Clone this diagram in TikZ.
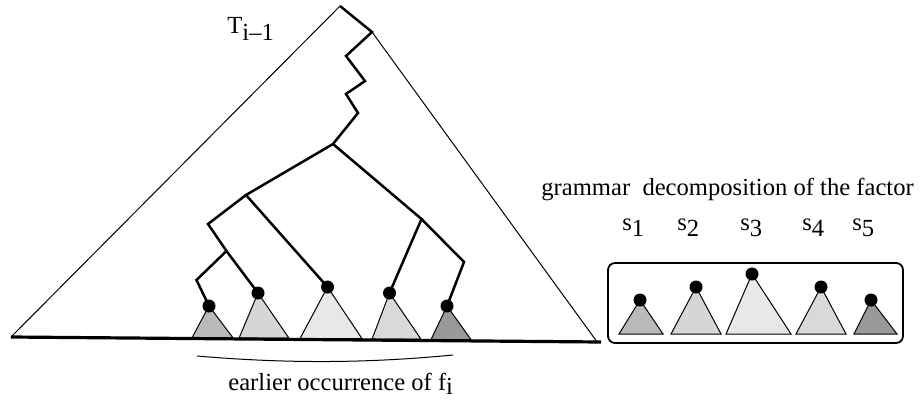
\documentclass[tikz,border=0pt]{standalone}
\usepackage{fontspec}
\setmainfont{Liberation Serif}
\definecolor{shadeA}{gray}{0.73}
\definecolor{shadeB}{gray}{0.84}
\definecolor{shadeC}{gray}{0.91}
\definecolor{shadeD}{gray}{0.85}
\definecolor{shadeE}{gray}{0.60}
\newcommand{\lowsub}[2][0.32em]{\raisebox{-#1}{#2}}

\begin{document}
\begin{tikzpicture}[x=0.5pt,y=-0.5pt,
    outline/.style={line width=0.5pt},
    treeline/.style={line width=1.25pt, line join=miter},
    subtree/.style={draw=black, line width=0.5pt, line join=miter},
    dot/.style={circle, fill=black, inner sep=0pt, minimum size=6.5pt},
    lbl/.style={inner sep=0pt, anchor=base west, font=\fontsize{12.3}{14}\selectfont}]
    \useasboundingbox (0,0) rectangle (920,402);
    \coordinate (top) at (340,6);
    \coordinate (rs) at (372,32);
    \coordinate (lc) at (11,337);
    \coordinate (rc) at (597,341.8);
    \coordinate (br) at (601,342);
    \draw[outline] (lc) -- (top);
    \draw[outline] (rs) -- (rc);
    \coordinate (p1) at (209,306);
    \coordinate (p2) at (258,293);
    \coordinate (p3) at (327.5,287);
    \coordinate (p4) at (389.5,293);
    \coordinate (p5) at (447,306);
    \filldraw[subtree, fill=shadeA] (p1) -- (192,337.8) -- (233,337.8) -- cycle;
    \filldraw[subtree, fill=shadeB] (p2) -- (239,338.2) -- (289,338.2) -- cycle;
    \filldraw[subtree, fill=shadeC] (p3) -- (300,338.6) -- (362,338.6) -- cycle;
    \filldraw[subtree, fill=shadeD] (p4) -- (372,339.2) -- (421,339.2) -- cycle;
    \filldraw[subtree, fill=shadeE] (p5) -- (431,339.6) -- (471,339.6) -- cycle;
    \draw[line width=1.6pt] (lc) -- (br);
    \node[dot] (d1) at (p1) {};
    \node[dot] (d2) at (p2) {};
    \node[dot] (d3) at (p3) {};
    \node[dot] (d4) at (p4) {};
    \node[dot] (d5) at (p5) {};
    \coordinate (r) at (333,144);
    \coordinate (a) at (246,195);
    \coordinate (b) at (421.5,219);
    \coordinate (c) at (208,224);
    \coordinate (d) at (226.5,251);
    \coordinate (e) at (196.5,280);
    \coordinate (f) at (464,262);
    \draw[treeline] (top) -- (rs) -- (346,56) -- (365,81) -- (346,94) -- (358,113) -- (r);
    \draw[treeline] (r) -- (a) -- (d3.center);
    \draw[treeline] (a) -- (c) -- (d) -- (d2.center);
    \draw[treeline] (d) -- (e) -- (d1.center);
    \draw[treeline] (r) -- (b) -- (d4.center);
    \draw[treeline] (b) -- (f) -- (d5.center);
    \draw[outline] (197,356) .. controls (290,364) and (370,363) .. (453,355);
    \node[lbl] (tname) at (227,33) {T\lowsub{i\textendash1}};
    \node[lbl] (occ) at (228,390) {earlier occurrence of f\lowsub[0.2em]{i}};
    \node[lbl] (gram) at (541,195) {grammar\ \ decomposition of the factor};
    \node[lbl] (s1) at (622,230) {s\lowsub[0.26em]{1}};
    \node[lbl] (s2) at (677,230) {s\lowsub[0.26em]{2}};
    \node[lbl] (s3) at (740,230) {s\lowsub[0.26em]{3}};
    \node[lbl] (s4) at (802,230) {s\lowsub[0.26em]{4}};
    \node[lbl] (s5) at (852,230) {s\lowsub[0.26em]{5}};
    \draw[line width=0.9pt, rounded corners=3.5pt] (608,263) rectangle (903,343);
    \filldraw[subtree, fill=shadeA] (640,300) -- (619,334) -- (663,334) -- cycle;
    \filldraw[subtree, fill=shadeB] (696,287) -- (671,334) -- (721,334) -- cycle;
    \filldraw[subtree, fill=shadeC] (752,274) -- (726,334) -- (791,334) -- cycle;
    \filldraw[subtree, fill=shadeD] (821,287) -- (796,334) -- (846,334) -- cycle;
    \filldraw[subtree, fill=shadeE] (871,300) -- (854,334) -- (897,334) -- cycle;
    \node[dot] (g1) at (640,300) {};
    \node[dot] (g2) at (696,287) {};
    \node[dot] (g3) at (752,274) {};
    \node[dot] (g4) at (821,287) {};
    \node[dot] (g5) at (871,300) {};
\end{tikzpicture}
\end{document}
